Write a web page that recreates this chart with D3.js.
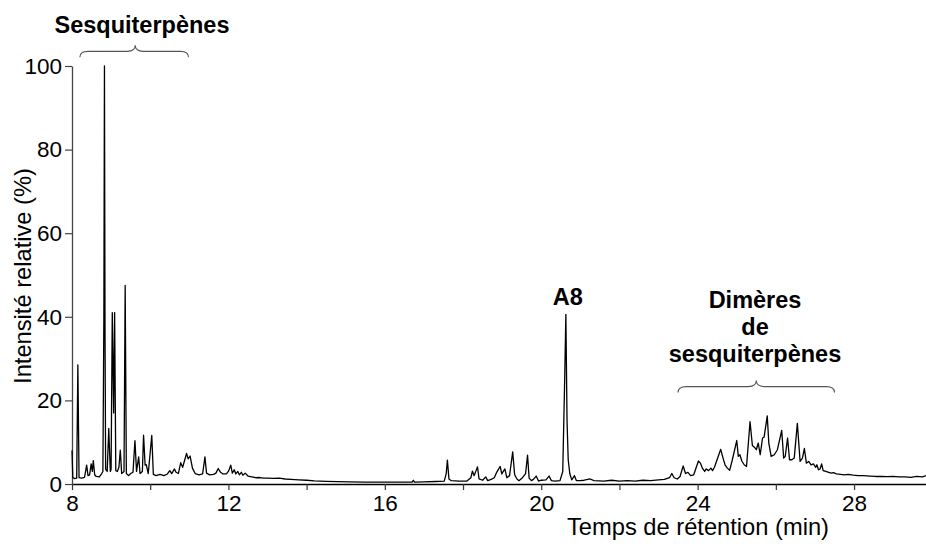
<!DOCTYPE html>
<html>
<head>
<meta charset="utf-8">
<script src="https://cdn.jsdelivr.net/npm/d3@7"></script>
<style>
  html, body { margin: 0; padding: 0; background: #fff; }
  svg { display: block; font-family: "Liberation Sans", Arial, Helvetica, sans-serif; }
</style>
</head>
<body>
<svg id="chart" width="926" height="546"></svg>
<script>
// Retention time (min) and relative intensity (%)
const rt = [
  8.00, 8.02, 8.06, 8.12, 8.15, 8.18, 8.25, 8.32, 8.375, 8.41, 8.45, 8.49, 8.52, 8.545, 8.58, 8.62, 8.70, 8.76,
  8.79, 8.815, 8.83, 8.845, 8.86, 8.90, 8.94, 8.98, 9.00, 9.03, 9.065, 9.09, 9.12, 9.16, 9.20, 9.235, 9.27,
  9.33, 9.36, 9.39, 9.45, 9.50, 9.56, 9.61, 9.65, 9.705, 9.74, 9.80, 9.83, 9.87, 9.90, 9.95, 10.04, 10.08,
  10.15, 10.25, 10.35, 10.44, 10.50, 10.55, 10.62, 10.66, 10.72, 10.78, 10.83, 10.93, 10.97, 11.02, 11.08,
  11.15, 11.25, 11.34, 11.40, 11.44, 11.52, 11.62, 11.68, 11.74, 11.80, 11.86, 11.95, 12.01, 12.06, 12.10,
  12.15, 12.19, 12.24, 12.28, 12.33, 12.37, 12.43, 12.50, 12.60, 12.70, 12.80, 12.90, 13.00, 13.15, 13.30,
  13.45, 13.60, 13.80, 14.00, 14.20, 14.50, 14.80, 15.10, 15.50, 16.00, 16.50, 16.70, 16.73, 16.76, 17.00,
  17.30, 17.52, 17.57, 17.60, 17.64, 17.70, 17.90, 18.10, 18.20, 18.24, 18.28, 18.31, 18.37, 18.41, 18.50,
  18.58, 18.63, 18.72, 18.80, 18.86, 18.95, 18.99, 19.07, 19.12, 19.19, 19.27, 19.32, 19.38, 19.43, 19.52,
  19.60, 19.65, 19.69, 19.75, 19.80, 19.87, 19.93, 20.00, 20.12, 20.20, 20.26, 20.35, 20.48, 20.55, 20.60,
  20.63, 20.66, 20.69, 20.73, 20.78, 20.85, 20.90, 21.00, 21.10, 21.25, 21.35, 21.60, 21.80, 22.00, 22.20,
  22.40, 22.60, 22.80, 23.00, 23.15, 23.28, 23.34, 23.40, 23.48, 23.55, 23.63, 23.69, 23.75, 23.82, 23.90,
  24.02, 24.07, 24.12, 24.18, 24.22, 24.28, 24.34, 24.38, 24.43, 24.59, 24.65, 24.70, 24.76, 24.82, 24.88,
  25.00, 25.04, 25.08, 25.13, 25.19, 25.25, 25.34, 25.40, 25.45, 25.50, 25.55, 25.60, 25.66, 25.70, 25.78,
  25.82, 25.88, 25.96, 26.04, 26.15, 26.20, 26.24, 26.30, 26.35, 26.41, 26.47, 26.55, 26.62, 26.68, 26.73,
  26.78, 26.84, 26.90, 26.96, 27.02, 27.05, 27.09, 27.13, 27.17, 27.21, 27.28, 27.35, 27.42, 27.47, 27.55,
  27.65, 27.75, 27.85, 27.98, 28.10, 28.25, 28.40, 28.55, 28.70, 28.85, 29.00, 29.15, 29.30, 29.45, 29.60,
  29.75, 29.84
];
const intensity = [
  8.0, 1.6, 1.3, 1.4, 28.5, 1.5, 1.4, 1.6, 4.5, 2.0, 2.2, 4.8, 3.0, 5.6, 2.2, 1.8, 1.7, 2.5,
  3.0, 40, 100, 35, 3.5, 3.0, 13.3, 3.0, 3.5, 41, 17, 41, 3.2, 3.0, 4.0, 8.1, 2.5,
  3.0, 47.5, 2.5, 2.0, 2.5, 2.8, 10.4, 3.0, 6.5, 2.5, 3.0, 11.7, 4.5, 4.6, 2.5, 11.6, 2.3,
  2.0, 2.3, 2.0, 2.4, 3.2, 2.5, 3.6, 2.8, 2.5, 5.1, 4.0, 7.3, 6.0, 6.7, 3.8,
  2.5, 2.2, 2.4, 6.5, 2.6, 2.2, 2.3, 2.6, 3.7, 2.8, 2.4, 2.4, 3.2, 4.5, 2.6,
  3.4, 2.4, 3.0, 2.2, 2.8, 2.1, 2.6, 1.9, 1.7, 1.5, 1.55, 1.4, 1.4, 1.35, 1.4,
  1.2, 1.1, 1.0, 0.9, 0.75, 0.65, 0.55, 0.5, 0.45, 0.45, 0.45, 0.45, 0.9, 0.45, 0.5,
  0.6, 0.7, 2.5, 5.7, 1.2, 0.8, 0.7, 0.7, 1.5, 3.1, 2.0, 2.6, 4.1, 1.2, 0.9,
  1.7, 0.8, 1.1, 1.5, 2.8, 4.2, 2.4, 3.6, 1.5, 2.0, 7.7, 2.2, 1.2, 0.8, 1.5,
  2.5, 6.9, 1.4, 0.8, 1.1, 1.9, 0.7, 0.9, 1.0, 1.9, 0.8, 0.7, 0.8, 3.0, 25,
  40.6, 15, 5.8, 2.5, 1.0, 2.0, 0.8, 0.8, 0.9, 1.2, 0.8, 0.7, 0.9, 0.7, 0.8,
  0.7, 0.9, 0.8, 1.0, 1.1, 1.5, 2.5, 1.5, 1.2, 1.8, 4.3, 2.5, 2.8, 2.0, 2.2,
  5.5, 5.0, 3.8, 3.0, 3.6, 3.2, 3.8, 3.2, 4.0, 8.3, 6.2, 4.6, 3.8, 3.3, 5.5,
  10.4, 6.6, 7.0, 5.5, 4.6, 4.2, 14.9, 9.2, 8.8, 8.2, 9.8, 7.0, 11.0, 11.2, 16.3,
  9.8, 6.6, 7.0, 8.2, 12.8, 6.2, 6.6, 11.0, 5.8, 5.8, 6.2, 14.5, 5.4, 6.2, 8.5,
  5.0, 5.4, 4.6, 4.8, 4.0, 4.6, 3.4, 3.6, 4.8, 3.2, 3.0, 2.8, 2.6, 2.7, 2.4,
  2.3, 2.2, 2.3, 2.1, 2.0, 2.0, 1.9, 1.8, 1.8, 1.75, 1.8, 1.7, 1.7, 1.6, 1.8,
  1.7, 2.0
];

const xTicks = [8, 10, 12, 14, 16, 18, 20, 22, 24, 26, 28];
const xLabelled = [8, 12, 16, 20, 24, 28];
const yTicks = [0, 20, 40, 60, 80, 100];
const xTitle = "Temps de rétention (min)";
const yTitle = "Intensité relative (%)";

// Group annotations: label lines, bracket span (min) and bracket height (%)
const groupLabels = [["Sesquiterpènes"], ["Dimères", "de", "sesquiterpènes"]];
const groupSpans = [[8.2, 10.98], [23.5, 27.5]];
const groupLevels = [103.5, 23.3];
const peakLabel = "A8";
const peakTime = 20.63;
const peakValue = 40.6;

const svg = d3.select("#chart");
const margin = {left: 72, right: 0, top: 66, bottom: 62};
const W = 926, H = 546;

const x = d3.scaleLinear().domain([8, 29.84]).range([margin.left, W - margin.right]);
const y = d3.scaleLinear().domain([0, 100]).range([484, 66]);

// x axis
const gx = svg.append("g").attr("transform", `translate(0,${y(0)})`)
  .call(d3.axisBottom(x).tickValues(xTicks).tickSize(6).tickSizeOuter(0).tickPadding(5)
    .tickFormat(d => xLabelled.includes(d) ? d : ""));
gx.select(".domain").attr("stroke", "#000").attr("stroke-width", 1.3);
gx.selectAll(".tick line").attr("stroke", "#333").attr("stroke-width", 1.2);
gx.selectAll(".tick text").attr("font-size", 22.5).attr("fill", "#000")
  .attr("font-family", "'Liberation Sans', Arial, sans-serif");

// y axis
const gy = svg.append("g").attr("transform", `translate(${x(8)},0)`)
  .call(d3.axisLeft(y).tickValues(yTicks).tickSize(7).tickSizeOuter(0).tickPadding(3));
gy.select(".domain").attr("stroke", "#444").attr("stroke-width", 1.3);
gy.selectAll(".tick line").attr("stroke", "#444").attr("stroke-width", 1.2);
gy.selectAll(".tick text").attr("font-size", 22.5).attr("fill", "#000")
  .attr("font-family", "'Liberation Sans', Arial, sans-serif");

// axis titles
svg.append("text").attr("x", 698).attr("y", 535).attr("text-anchor", "middle")
  .attr("font-size", 23.7).attr("fill", "#000").text(xTitle);
svg.append("text").attr("transform", "translate(31,276) rotate(-90)").attr("text-anchor", "middle")
  .attr("font-size", 23.7).attr("fill", "#000").text(yTitle);

// chromatogram trace
const pts = rt.map((t, i) => [t, intensity[i]]);
svg.append("path").datum(pts)
  .attr("fill", "none").attr("stroke", "#000").attr("stroke-width", 1.3)
  .attr("stroke-linejoin", "round")
  .attr("d", d3.line().x(d => x(d[0])).y(d => y(d[1])));

// curly brackets
function brace(x1, x2, yy, tipX) {
  const d = 6, r = 8;
  return `M${x1},${yy + d} Q${x1},${yy} ${x1 + r},${yy} L${tipX - r},${yy} Q${tipX},${yy} ${tipX},${yy - d}`
    + ` Q${tipX},${yy} ${tipX + r},${yy} L${x2 - r},${yy} Q${x2},${yy} ${x2},${yy + d}`;
}
groupSpans.forEach((s, i) => {
  const x1 = x(s[0]), x2 = x(s[1]);
  const yy = y(groupLevels[i]);
  const tip = i === 0 ? x1 + (x2 - x1) * 0.51 : (x1 + x2) / 2;
  svg.append("path").attr("d", brace(x1, x2, yy, tip))
    .attr("fill", "none").attr("stroke", "#555").attr("stroke-width", 1.1);
});

// group labels
svg.append("text").attr("x", 142).attr("y", 33).attr("text-anchor", "middle")
  .attr("font-size", 23.5).attr("font-weight", "bold").attr("fill", "#000")
  .text(groupLabels[0][0]);
groupLabels[1].forEach((l, i) => {
  svg.append("text").attr("x", 755).attr("y", 308 + i * 27).attr("text-anchor", "middle")
    .attr("font-size", 23.5).attr("font-weight", "bold").attr("fill", "#000").text(l);
});

// peak label
svg.append("text").attr("x", x(peakTime) + 2).attr("y", y(peakValue) - 9).attr("text-anchor", "middle")
  .attr("font-size", 23.5).attr("font-weight", "bold").attr("fill", "#000").text(peakLabel);
</script>
</body>
</html>
